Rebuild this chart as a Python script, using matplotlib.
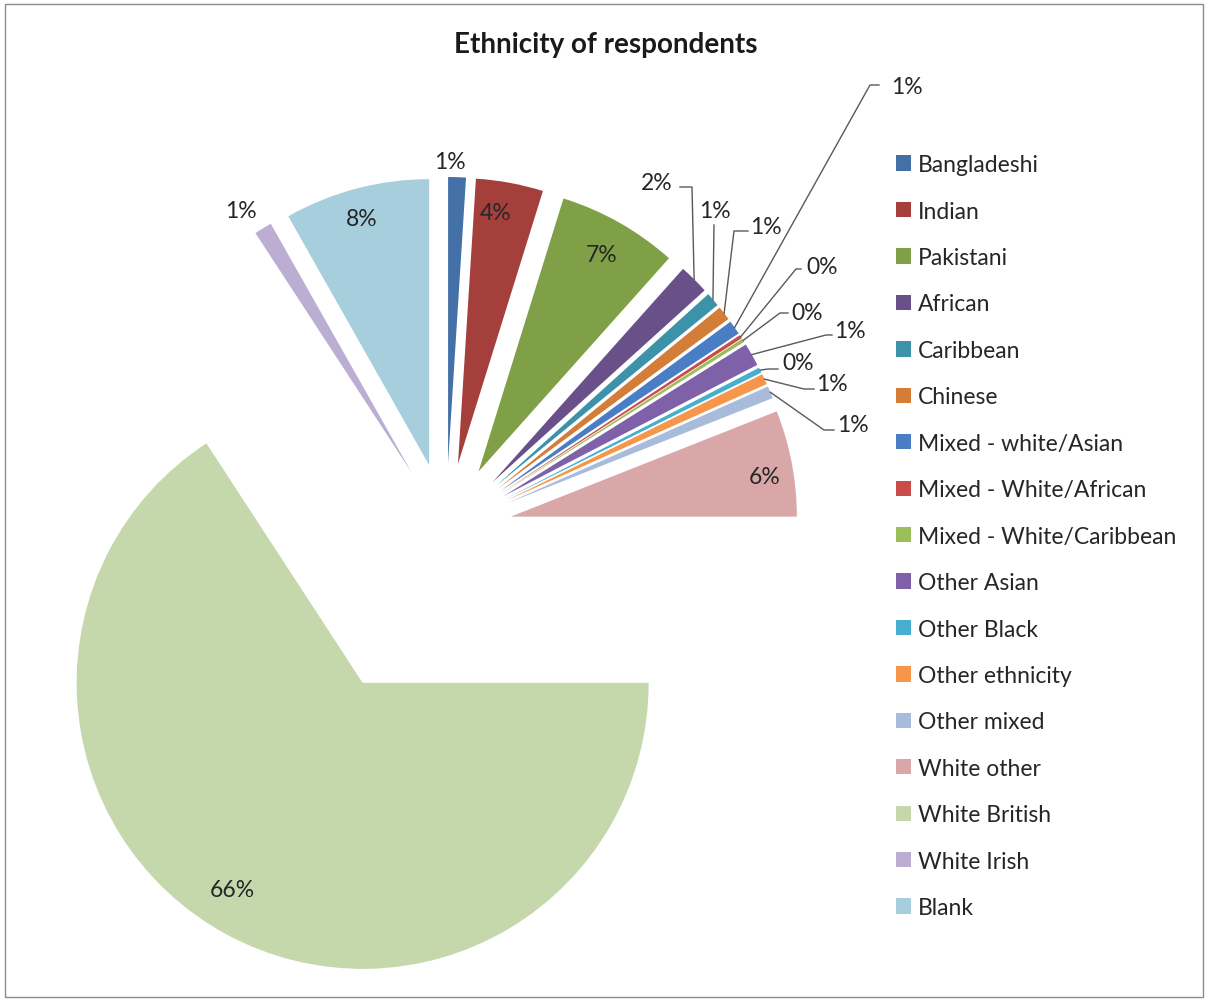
import matplotlib
matplotlib.use('Agg')
import matplotlib.pyplot as plt
from matplotlib.patches import Rectangle
import numpy as np

categories = ['Bangladeshi', 'Indian', 'Pakistani', 'African', 'Caribbean', 'Chinese',
              'Mixed - white/Asian', 'Mixed - White/African', 'Mixed - White/Caribbean',
              'Other Asian', 'Other Black', 'Other ethnicity', 'Other mixed',
              'White other', 'White British', 'White Irish', 'Blank']
shares = [1.0, 3.8, 6.8, 1.7, 0.8, 0.8, 0.8, 0.2, 0.2, 1.3, 0.3, 0.6, 0.7,
          6.0, 65.8, 1.0, 8.2]
colors = ['#4470A8', '#A53F3C', '#80A048', '#6A5089', '#3C93A9', '#D47D38',
          '#4A7EC4', '#CB4A4A', '#9BBE5A', '#7E61A8', '#47AECF', '#F6964A',
          '#A8BBDB', '#D9A7A7', '#C5D8AC', '#BCAED3', '#A7CEDC']

W, H = 1208, 1003
S = 286.0  # pixels per pie radius


def px(x, y):
    # image pixel -> data coords
    return x / S, (H - y) / S


def main():
    plt.rcParams['font.family'] = ['Lato', 'DejaVu Sans']
    fig = plt.figure(figsize=(W / 100, H / 100), dpi=100)
    ax = fig.add_axes([0, 0, 1, 1])

    explode = [66 / S] * len(shares)
    explode[categories.index('White British')] = 175 / S
    wedges, _ = ax.pie(shares, colors=colors, startangle=90, counterclock=False,
                       radius=1.0, center=px(446, 530), explode=explode,
                       wedgeprops=dict(linewidth=0))
    ax.set_xlim(0, W / S)
    ax.set_ylim(0, H / S)
    ax.set_aspect('equal')
    ax.axis('off')

    pct = ['%.0f%%' % v for v in shares]
    fs = 16.5

    # labels placed directly
    direct = {'Bangladeshi': (450, 162), 'Indian': (496, 213), 'Pakistani': (602, 256),
              'White other': (765, 478), 'White British': (232, 891),
              'White Irish': (241, 212), 'Blank': (362, 220)}
    for name, (x, y) in direct.items():
        i = categories.index(name)
        ax.text(*px(x, y), pct[i], ha='center', va='center', fontsize=fs, color='#262626')

    # labels with leader lines: text pos, line start, elbow
    leaders = {'African': ((657, 184), (680, 188), (692, 188)),
               'Caribbean': ((715, 211), (714, 226), (714, 226)),
               'Chinese': ((766, 227), (748, 232), (734, 232)),
               'Mixed - white/Asian': ((907, 87), (879, 86), (870, 86)),
               'Mixed - White/African': ((822, 268), (801, 270), (796, 270)),
               'Mixed - White/Caribbean': ((807, 313), (788, 314), (780, 314)),
               'Other Asian': ((850, 332), (832, 336), (826, 336)),
               'Other Black': ((798, 364), (778, 370), (768, 370)),
               'Other ethnicity': ((832, 384), (814, 390), (804, 390)),
               'Other mixed': ((853, 425), (834, 431), (824, 431))}
    for name, (tp, sp, ep) in leaders.items():
        i = categories.index(name)
        w = wedges[i]
        th = np.deg2rad((w.theta1 + w.theta2) / 2)
        ax_, ay_ = w.center[0] + w.r * np.cos(th), w.center[1] + w.r * np.sin(th)
        xs = [px(*sp)[0], px(*ep)[0], ax_]
        ys = [px(*sp)[1], px(*ep)[1], ay_]
        ax.plot(xs, ys, color='#595959', lw=1.0)
        ax.text(*px(*tp), pct[i], ha='center', va='center', fontsize=fs, color='#262626')

    ax.text(*px(606, 45), 'Ethnicity of respondents', ha='center', va='center',
            fontsize=20, fontweight='bold', color='#1a1a1a')

    leg = ax.legend(wedges, categories, loc='upper left', bbox_to_anchor=(887 / W, 1 - 146 / H),
                    frameon=False, fontsize=fs, handlelength=0.65, handleheight=0.65,
                    handletextpad=0.3, labelspacing=1.11, borderaxespad=0)
    for t in leg.get_texts():
        t.set_color('#262626')

    fig.patches.append(Rectangle((5 / W, 5 / H), 1 - 10 / W, 1 - 10 / H, transform=fig.transFigure,
                                 fill=False, edgecolor='#8c8c8c', lw=1))
    fig.savefig('out.png', dpi=100)


if __name__ == "__main__":
    main()
